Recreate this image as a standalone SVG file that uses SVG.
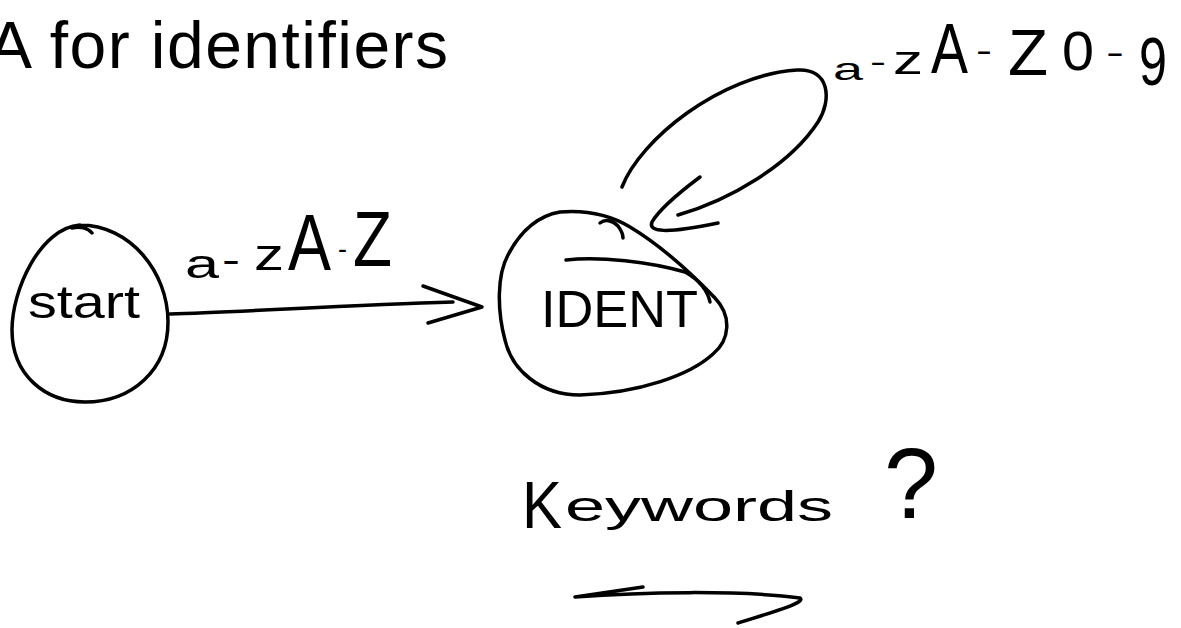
<svg xmlns="http://www.w3.org/2000/svg" width="1181" height="628" viewBox="0 0 1181 628">
  <style>
    .ink { fill: none; stroke: #000; stroke-width: 3.5; stroke-linecap: round; stroke-linejoin: round; }
    .hand { font-family: "Liberation Sans", Arial, sans-serif; fill: #000; }
    .title { font-family: "Liberation Sans", Arial, sans-serif; font-size: 66px; fill: #000; }
  </style>
  <rect width="1181" height="628" fill="#fff"/>

  <text class="title" x="-12" y="68" textLength="460" lengthAdjust="spacing">A for identifiers</text>

  <g id="connectors">
    <g id="edge-start-ident">
      <path class="ink" d="M170,314 C 240,312 350,305 453,302"/>
      <path class="ink" d="M423,286 L482,307 L428,323"/>
      <text class="hand">
        <tspan x="185" y="278" font-size="40" textLength="34" lengthAdjust="spacingAndGlyphs">a</tspan>
        <tspan x="222" y="272" font-size="36" textLength="18" lengthAdjust="spacingAndGlyphs">-</tspan>
        <tspan x="254" y="270" font-size="44" textLength="30" lengthAdjust="spacingAndGlyphs">z</tspan>
        <tspan x="288" y="270" font-size="80" textLength="43" lengthAdjust="spacingAndGlyphs">A</tspan>
        <tspan x="338" y="258" font-size="28" textLength="9" lengthAdjust="spacingAndGlyphs">-</tspan>
        <tspan x="353" y="266" font-size="78" textLength="39" lengthAdjust="spacingAndGlyphs">Z</tspan>
      </text>
    </g>
    <g id="edge-ident-loop">
      <path class="ink" d="M622,187 C 640,140 720,75 797,70 C 830,68 832,100 818,122 C 790,165 730,200 678,215"/>
      <path class="ink" d="M700,177 C 680,192 660,208 652,222 C 648,232 665,234 718,223"/>
      <text class="hand">
        <tspan x="833" y="80" font-size="32" textLength="30" lengthAdjust="spacingAndGlyphs">a</tspan>
        <tspan x="870" y="72" font-size="30" textLength="16" lengthAdjust="spacingAndGlyphs">-</tspan>
        <tspan x="893" y="74" font-size="40" textLength="30" lengthAdjust="spacingAndGlyphs">z</tspan>
        <tspan x="931" y="73" font-size="70" textLength="37" lengthAdjust="spacingAndGlyphs">A</tspan>
        <tspan x="976" y="62" font-size="34" textLength="16" lengthAdjust="spacingAndGlyphs">-</tspan>
        <tspan x="1008" y="75" font-size="64" textLength="40" lengthAdjust="spacingAndGlyphs">Z</tspan>
        <tspan x="1062" y="70" font-size="56" textLength="32" lengthAdjust="spacingAndGlyphs">0</tspan>
        <tspan x="1106" y="64" font-size="34" textLength="18" lengthAdjust="spacingAndGlyphs">-</tspan>
        <tspan x="1139" y="85" font-size="68" textLength="28" lengthAdjust="spacingAndGlyphs">9</tspan>
      </text>
    </g>
  </g>

  <g id="node-start">
    <path class="ink" d="M80,225 C 40,228 12,290 12,330 C 12,375 45,402 85,402 C 132,402 168,370 168,322 C 168,272 130,225 80,225 M72,228 C 80,226 88,228 92,233"/>
    <text class="hand" x="28" y="318" font-size="46" textLength="112" lengthAdjust="spacingAndGlyphs">start</text>
  </g>

  <g id="node-ident">
    <path class="ink" d="M560,212 C 585,210 610,215 630,227 C 660,245 690,272 715,298 C 732,316 730,340 713,354 C 690,375 640,393 580,395 C 540,395 512,370 505,340 C 497,310 497,275 508,255 C 520,232 537,216 560,212 Z"/>
    <path class="ink" d="M566,260 C 600,256 650,262 685,272 C 700,280 708,292 710,302"/>
    <path class="ink" d="M600,223 C 605,219 612,220 618,226 C 621,230 623,234 623,238"/>
    <text class="hand" x="541" y="327" font-size="52" textLength="157" lengthAdjust="spacingAndGlyphs">IDENT</text>
  </g>

  <g id="note-keywords">
    <text class="hand">
      <tspan x="522" y="528" font-size="66" textLength="40" lengthAdjust="spacingAndGlyphs">K</tspan>
      <tspan x="565" y="521" font-size="42" textLength="268" lengthAdjust="spacingAndGlyphs">eywords</tspan>
    </text>
    <text class="hand" x="884" y="518" font-size="100" textLength="54" lengthAdjust="spacingAndGlyphs">?</text>
    <path class="ink" d="M643,587 L575,597 C 640,592 740,590 800,598 C 806,602 780,610 738,623"/>
  </g>
</svg>
